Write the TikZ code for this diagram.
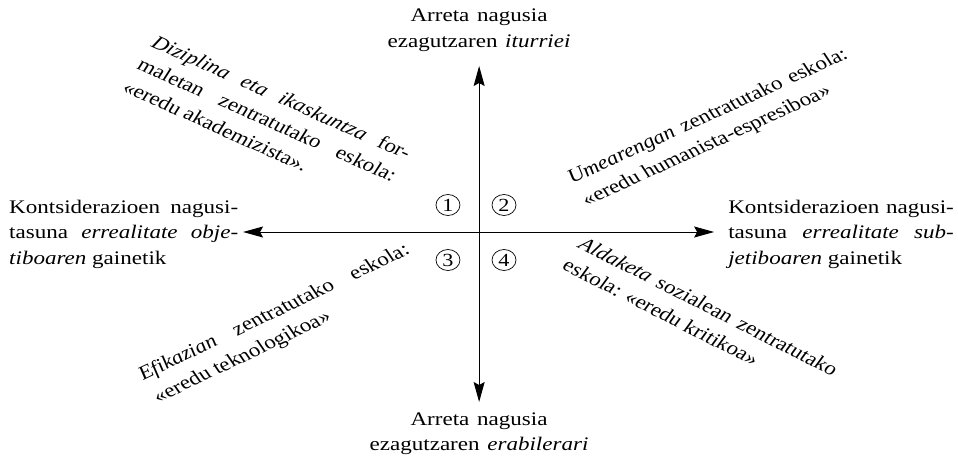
\documentclass[tikz,border=0pt]{standalone}
\usepackage{fontspec}
\setmainfont{Liberation Serif}
\usetikzlibrary{arrows.meta,shapes.geometric}
\begin{document}
\begin{tikzpicture}[x=1pt,y=-1pt,xscale=1.2,transform shape,
  txt/.style={font={\fontsize{19.2}{25.5}\selectfont\sloppy\hyphenpenalty10000\exhyphenpenalty10000}, inner sep=0pt},
  para/.style={txt, align=justify, text width=#1},
  ctr/.style={txt, align=center, text width=230pt},
  num/.style={ellipse, draw, line width=0.7pt, minimum width=20pt, minimum height=21pt, inner sep=0pt, font={\fontsize{18.5}{18.5}\selectfont}},
  axis/.style={line width=1pt, {Stealth[length=20pt,width=11pt,inset=3pt]}-{Stealth[length=20pt,width=11pt,inset=3pt]}}]
\useasboundingbox (0,0) rectangle (798.33,457);
% axes
\coordinate (T) at (399.2,66);
\coordinate (B) at (399.2,402);
\coordinate (L) at (202.5,232);
\coordinate (R) at (595,232);
\draw[axis] (L) -- (R);
\draw[axis] (B) -- (T);
% quadrant numbers
\node[num] (n1) at (373.3,205) {1};
\node[num] (n2) at (420,205) {2};
\node[num] (n3) at (373.3,260) {3};
\node[num] (n4) at (420,260) {4};
% pole labels
\node[ctr, anchor=base] (top) at (399.2,22) {Arreta nagusia\\ezagutzaren \textit{iturriei}};
\node[ctr, anchor=base] (bot) at (399.2,425) {Arreta nagusia\\ezagutzaren \textit{erabilerari}};
\node[para=190.8pt, anchor=base west] (left) at (7.5,213)
  {Kontsiderazioen nagusi-\linebreak tasuna \textit{errealitate obje-}\linebreak\textit{tiboaren} gainetik};
\node[para=188pt, anchor=base west] (right) at (606.7,213)
  {Kontsiderazioen nagusi-\linebreak tasuna \textit{errealitate sub-}\linebreak\textit{jetiboaren} gainetik};
% quadrant descriptions
\node[para=241.5pt, anchor=base west, rotate=-28.1] (q1) at (125,46)
  {\textit{Diziplina eta ikaskuntza} for-\linebreak maletan zentratutako eskola:\linebreak «eredu akademizista».};
\node[para=263pt, anchor=base west, rotate=28.7] (q2) at (476.7,184)
  {\textit{Umearengan} zentratutako eskola:\linebreak «eredu humanista-espresiboa»};
\node[para=257pt, anchor=base west, rotate=29.8] (q3) at (119.2,381)
  {\textit{Efikazian} zentratutako eskola:\linebreak «eredu teknologikoa»};
\node[para=249pt, anchor=base west, rotate=-31.4] (q4) at (480.8,247)
  {\textit{Aldaketa} sozialean zentratutako\linebreak eskola: «eredu kritikoa»};
\end{tikzpicture}
\end{document}
